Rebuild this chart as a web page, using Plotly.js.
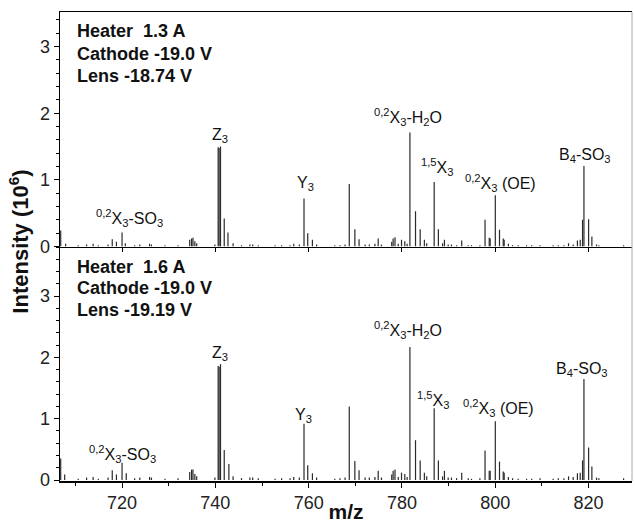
<!DOCTYPE html>
<html>
<head>
<meta charset="utf-8">
<script src="https://cdn.plot.ly/plotly-3.0.1.min.js"></script>
<style>html,body{margin:0;padding:0;background:#fff;}#chart{width:635px;height:523px;}</style>
</head>
<body>
<div id="chart"></div>
<script>
// ---- Data: top panel (Heater 1.3 A) ----
const mzTop = [706.85, 707.9, 710.6, 712.4, 713.8, 714.9, 717.0, 717.9, 718.8, 720.0, 720.7, 722.7, 723.8, 725.9, 726.3, 729.2, 732.0,
  734.5, 734.9, 735.2, 735.6, 736.0, 739.9, 740.6, 740.8, 741.1, 741.9, 742.7, 743.8, 745.6, 747.4, 748.0, 749.2, 752.8, 754.2,
  756.0, 756.8, 758.0, 759.0, 759.8, 760.8, 761.7, 765.6, 766.7, 767.8, 768.7, 769.9, 770.8, 772.1, 773.0, 774.2, 774.9, 775.6,
  777.8, 778.1, 778.5, 779.2, 779.9, 780.6, 781.1, 781.7, 782.9, 783.9, 784.8, 785.3, 786.9, 787.8, 788.7, 789.1, 789.9, 790.6,
  791.7, 792.8, 794.2, 794.9, 796.7, 797.8, 798.7, 798.9, 800.0, 800.9, 801.7, 801.9, 802.8, 803.7, 804.9, 806.7, 807.8, 809.6,
  812.4, 813.5, 814.7, 815.7, 816.7, 817.6, 818.2, 818.7, 819.0, 820.0, 820.7, 821.7, 822.2, 827.5];
const intTop = [0.24, 0.04, 0.02, 0.03, 0.04, 0.02, 0.03, 0.11, 0.07, 0.21, 0.05, 0.02, 0.03, 0.04, 0.03, 0.02, 0.02,
  0.10, 0.12, 0.13, 0.08, 0.05, 0.03, 1.49, 1.48, 1.50, 0.42, 0.21, 0.05, 0.02, 0.03, 0.03, 0.02, 0.02, 0.02,
  0.02, 0.04, 0.03, 0.72, 0.20, 0.10, 0.03, 0.02, 0.02, 0.03, 0.94, 0.26, 0.11, 0.03, 0.03, 0.04, 0.12, 0.03,
  0.07, 0.12, 0.14, 0.04, 0.10, 0.08, 0.04, 1.71, 0.53, 0.26, 0.10, 0.05, 0.97, 0.26, 0.05, 0.10, 0.03, 0.03,
  0.02, 0.09, 0.02, 0.02, 0.02, 0.40, 0.13, 0.12, 0.77, 0.25, 0.12, 0.10, 0.04, 0.02, 0.02, 0.02, 0.02, 0.02,
  0.02, 0.02, 0.02, 0.05, 0.03, 0.09, 0.10, 0.40, 1.21, 0.41, 0.15, 0.03, 0.02, 0.02];

// ---- Data: bottom panel (Heater 1.6 A) ----
const mzBot = [706.85, 707.7, 710.6, 712.4, 713.8, 714.9, 717.0, 717.9, 718.8, 720.0, 720.9, 722.7, 723.8, 725.9, 726.3, 729.2, 732.0,
  734.5, 734.9, 735.2, 735.6, 736.0, 739.9, 740.6, 740.8, 741.1, 741.9, 742.9, 743.8, 745.6, 747.4, 748.0, 749.2, 752.8, 754.2,
  756.0, 756.8, 758.0, 759.0, 759.8, 760.8, 761.7, 765.6, 766.7, 767.8, 768.7, 769.9, 770.8, 772.1, 773.0, 774.2, 774.9, 775.6,
  777.8, 778.1, 778.5, 779.2, 779.9, 780.6, 781.1, 781.7, 782.9, 783.9, 784.8, 785.3, 786.9, 787.8, 788.7, 789.1, 789.9, 790.6,
  791.7, 792.8, 794.2, 794.9, 796.7, 797.8, 798.7, 798.9, 800.0, 800.9, 801.7, 801.9, 802.8, 803.7, 804.9, 806.7, 807.8, 809.6,
  812.4, 813.5, 814.7, 815.7, 816.7, 817.6, 818.2, 818.7, 819.0, 820.0, 820.7, 821.7, 822.2, 827.5];
const intBot = [0.35, 0.09, 0.02, 0.04, 0.05, 0.02, 0.04, 0.16, 0.09, 0.28, 0.11, 0.03, 0.04, 0.05, 0.04, 0.02, 0.03,
  0.13, 0.17, 0.17, 0.10, 0.06, 0.04, 1.86, 1.85, 1.89, 0.49, 0.26, 0.06, 0.03, 0.04, 0.04, 0.03, 0.02, 0.03,
  0.03, 0.05, 0.04, 0.92, 0.24, 0.11, 0.04, 0.02, 0.03, 0.04, 1.20, 0.31, 0.16, 0.04, 0.04, 0.05, 0.15, 0.04,
  0.09, 0.15, 0.17, 0.05, 0.12, 0.10, 0.05, 2.17, 0.65, 0.32, 0.12, 0.06, 1.17, 0.32, 0.06, 0.15, 0.04, 0.04,
  0.03, 0.12, 0.03, 0.02, 0.03, 0.48, 0.15, 0.15, 0.96, 0.30, 0.14, 0.12, 0.05, 0.03, 0.02, 0.02, 0.02, 0.03,
  0.02, 0.03, 0.03, 0.06, 0.05, 0.11, 0.12, 0.32, 1.65, 0.53, 0.22, 0.04, 0.03, 0.03];

// ---- Peak labels ----
const peakLabels = ['<sup>0,2</sup>X<sub>3</sub>-SO<sub>3</sub>', 'Z<sub>3</sub>', 'Y<sub>3</sub>',
  '<sup>0,2</sup>X<sub>3</sub>-H<sub>2</sub>O', '<sup>1,5</sup>X<sub>3</sub>', '<sup>0,2</sup>X<sub>3</sub> (OE)', 'B<sub>4</sub>-SO<sub>3</sub>'];
const labelMzTop = [721.5, 741.0, 759.3, 781.3, 787.5, 801.2, 819.3];
const labelYTop = [0.43, 1.67, 0.95, 1.94, 1.19, 0.95, 1.36];
const labelMzBot = [720.2, 741.0, 758.8, 781.2, 786.6, 800.6, 818.6];
const labelYBot = [0.42, 2.07, 1.05, 2.45, 1.31, 1.17, 1.81];

const condTop = ['Heater\u00a0 1.3 A', 'Cathode -19.0 V', 'Lens -18.74 V'];
const condBot = ['Heater\u00a0 1.6 A', 'Cathode -19.0 V', 'Lens -19.19 V'];

function sticks(mz, inten) {
  const x = [], y = [];
  for (let i = 0; i < mz.length; i++) { x.push(mz[i], mz[i], null); y.push(0, inten[i], null); }
  return {x, y};
}
const sT = sticks(mzTop, intTop), sB = sticks(mzBot, intBot);
const FONT = 'Liberation Sans, Arial, sans-serif';

const traces = [
  {x: sT.x, y: sT.y, xaxis: 'x2', yaxis: 'y2', mode: 'lines', line: {color: '#2a2a2a', width: 1.2, simplify: false}, hoverinfo: 'skip', showlegend: false},
  {x: sB.x, y: sB.y, xaxis: 'x', yaxis: 'y', mode: 'lines', line: {color: '#2a2a2a', width: 1.2, simplify: false}, hoverinfo: 'skip', showlegend: false}
];

const ann = [];
peakLabels.forEach((t, i) => {
  ann.push({x: labelMzTop[i], y: labelYTop[i], xref: 'x2', yref: 'y2', text: t, showarrow: false, xanchor: 'center', yanchor: 'middle', font: {family: FONT, size: 16, color: '#111'}});
  ann.push({x: labelMzBot[i], y: labelYBot[i], xref: 'x', yref: 'y', text: t, showarrow: false, xanchor: 'center', yanchor: 'middle', font: {family: FONT, size: 16, color: '#111'}});
});
const condYTop = [0.9595, 0.9115, 0.8635], condYBot = [0.457, 0.412, 0.3646];
condTop.forEach((t, i) => ann.push({x: 0.026, y: condYTop[i], xref: 'paper', yref: 'paper', text: '<b>' + t + '</b>', showarrow: false, xanchor: 'left', yanchor: 'middle', font: {family: FONT, size: 18, color: '#111'}}));
condBot.forEach((t, i) => ann.push({x: 0.026, y: condYBot[i], xref: 'paper', yref: 'paper', text: '<b>' + t + '</b>', showarrow: false, xanchor: 'left', yanchor: 'middle', font: {family: FONT, size: 18, color: '#111'}}));
ann.push({x: -0.072, y: 0.51, xref: 'paper', yref: 'paper', text: '<b>Intensity (10<sup>6</sup>)</b>', textangle: -90, showarrow: false, xanchor: 'center', yanchor: 'middle', font: {family: FONT, size: 22, color: '#111'}});

const yax = (range, dom) => ({
  domain: dom, range: range, showline: true, linecolor: '#000', linewidth: 1.5, mirror: false,
  ticks: 'outside', ticklen: 5, tickwidth: 1, tickcolor: '#000', dtick: 1, tick0: 0,
  minor: {dtick: 0.2, ticks: 'outside', ticklen: 3, tickcolor: '#000', showgrid: false},
  showgrid: false, zeroline: false, tickfont: {family: FONT, size: 18, color: '#222'}, fixedrange: true
});

const layout = {
  width: 635, height: 523,
  margin: {l: 60, r: 3, t: 12, b: 42},
  paper_bgcolor: '#fff', plot_bgcolor: '#fff',
  showlegend: false,
  xaxis: {
    range: [706.7, 829.3], anchor: 'y', showline: true, linecolor: '#000', linewidth: 1.5,
    ticks: 'outside', ticklen: 5, tickcolor: '#000', dtick: 20, tick0: 0,
    minor: {dtick: 10, ticks: 'outside', ticklen: 3, tickcolor: '#000', showgrid: false},
    showgrid: false, zeroline: false, tickfont: {family: FONT, size: 18, color: '#222'},
    title: {text: '<b>m/z</b>', font: {family: FONT, size: 21, color: '#111'}, standoff: 5}
  },
  xaxis2: {
    range: [706.7, 829.3], anchor: 'y2', showline: true, linecolor: '#000', linewidth: 1.5, mirror: true,
    ticks: 'outside', ticklen: 4, tickcolor: '#000', dtick: 20, tick0: 0, showticklabels: false,
    showgrid: false, zeroline: false
  },
  yaxis: yax([-0.016, 3.81], [0, 0.5]),
  yaxis2: Object.assign(yax([0, 3.52], [0.5, 1]), {anchor: 'x2'}),
  annotations: ann,
  shapes: [{type: 'line', xref: 'paper', yref: 'paper', x0: 1, x1: 1, y0: 0, y1: 1, line: {color: '#aaa', width: 1}}]
};

Plotly.newPlot('chart', traces, layout, {staticPlot: true, displayModeBar: false});
</script>
</body>
</html>
